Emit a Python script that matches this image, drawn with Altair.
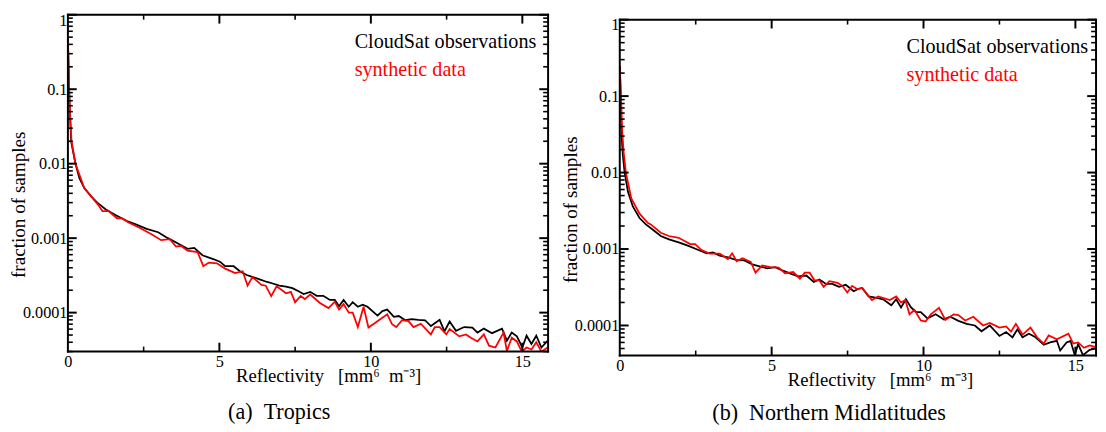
import altair as alt
import pandas as pd

FONT = "Liberation Serif"
SERIES = ["CloudSat observations", "synthetic data"]
COLORS = ["#000000", "#ff0000"]

Y_MAJOR = [1, 0.1, 0.01, 0.001, 0.0001]
X_MAJOR = [0, 5, 10, 15]
X_MINOR = [2.5, 7.5, 12.5]
X_TITLE = "Reflectivity\u00a0\u00a0\u00a0[mm\u2076\u00a0\u00a0m\u207b\u00b3]"
Y_TITLE = "fraction of samples"
CAPTIONS = ["(a)\u00a0\u00a0Tropics", "(b)\u00a0\u00a0Northern Midlatitudes"]

# ---- (a) Tropics ----
TROP_OBS_X = [0.0, 0.04, 0.07, 0.11, 0.25, 0.38, 0.54, 0.76, 0.97, 1.24, 1.57, 1.95, 2.22, 2.6,
              2.98, 3.3, 3.68, 3.95, 4.17, 4.44, 4.82, 5.03, 5.19, 5.47, 5.68, 5.9, 6.11, 6.33,
              6.55, 6.76, 6.98, 7.2, 7.41, 7.63, 7.78, 8.0, 8.21, 8.43, 8.65, 8.81, 8.95, 9.1,
              9.27, 9.4, 9.57, 9.73, 9.89, 10.22, 10.38, 10.54, 10.76, 10.92, 11.14, 11.35,
              11.57, 11.79, 11.98, 12.27, 12.43, 12.6, 12.81, 13.08, 13.35, 13.52, 13.73, 14.0,
              14.33, 14.49, 14.65, 14.82, 15.0, 15.14, 15.3, 15.46, 15.63, 15.84]
TROP_OBS_Y = [0.5, 0.1, 0.045, 0.0195, 0.01, 0.0064, 0.0047, 0.00366, 0.003, 0.00245, 0.00205,
              0.0017, 0.00154, 0.00133, 0.0012, 0.001, 0.00083, 0.00072, 0.00074, 0.00059,
              0.00052, 0.00048, 0.00042, 0.00042, 0.00036, 0.00032, 0.0003, 0.00028, 0.00026,
              0.000246, 0.00023, 0.000224, 0.000213, 0.000192, 0.000178, 0.00019, 0.000168,
              0.000168, 0.000148, 0.000148, 0.000122, 0.000148, 0.00012, 0.000138, 0.00012,
              0.000128, 0.00012, 0.000091, 0.000105, 0.00011, 0.000088, 0.00009, 0.000079,
              0.000082, 0.00008, 0.000079, 0.000066, 0.00008, 0.000056, 0.000076, 0.000057,
              0.000064, 0.000063, 0.000054, 0.000061, 0.000053, 0.000061, 0.000042, 0.000054,
              0.000048, 0.000034, 0.000049, 0.000038, 0.000049, 0.000034, 0.000042]
TROP_SYN_X = [0.0, 0.04, 0.07, 0.12, 0.25, 0.54, 0.83, 1.0, 1.14, 1.35, 1.62, 1.78, 2.0, 2.38,
              2.76, 3.08, 3.36, 3.57, 3.73, 3.95, 4.28, 4.47, 4.65, 4.92, 5.19, 5.52, 5.77, 5.93,
              6.09, 6.39, 6.53, 6.71, 6.89, 7.2, 7.36, 7.5, 7.68, 7.82, 8.0, 8.32, 8.6, 8.81,
              8.95, 9.1, 9.27, 9.4, 9.57, 9.76, 9.92, 10.1, 10.54, 10.7, 10.84, 11.03, 11.24,
              11.41, 11.65, 11.98, 12.11, 12.27, 12.49, 12.6, 12.92, 13.14, 13.3, 13.52, 13.73,
              13.9, 14.11, 14.38, 14.49, 14.65, 14.82, 14.98, 15.14, 15.3, 15.46, 15.63, 15.84]
TROP_SYN_Y = [0.5, 0.1, 0.045, 0.02, 0.01, 0.0047, 0.0034, 0.0028, 0.00231, 0.0023, 0.00185,
              0.00185, 0.00162, 0.00137, 0.00113, 0.00094, 0.00097, 0.00077, 0.00079, 0.00068,
              0.00065, 0.00042, 0.00047, 0.00046, 0.00039, 0.00034, 0.00036, 0.00023, 0.0003,
              0.000236, 0.00023, 0.000166, 0.000225, 0.000182, 0.00019, 0.000138, 0.000168,
              0.000152, 0.000175, 0.000135, 0.000115, 0.00014, 0.00011, 0.00013, 0.0001, 0.0001,
              0.000064, 0.00012, 0.000063, 0.000071, 0.000095, 0.00007, 0.000064, 0.000079,
              0.000077, 0.000064, 0.000071, 0.000051, 0.000064, 0.000064, 0.000051, 0.00006,
              0.000048, 0.000051, 0.000046, 0.000041, 0.000051, 0.000036, 0.000034, 0.000054,
              0.0000305, 0.000046, 0.000041, 0.00003, 0.000034, 0.000032, 0.00004, 0.00003,
              0.000034]

# ---- (b) Northern Midlatitudes ----
MID_OBS_X = [0.0, 0.03, 0.06, 0.1, 0.16, 0.27, 0.43, 0.65, 0.86, 1.08, 1.35, 1.62, 1.94, 2.26,
             2.59, 2.86, 3.07, 3.29, 3.56, 3.82, 4.1, 4.36, 4.63, 4.85, 5.12, 5.33, 5.6, 5.87,
             6.14, 6.39, 6.57, 6.79, 7.0, 7.22, 7.44, 7.7, 7.85, 7.98, 8.19, 8.46, 8.67, 8.94,
             9.1, 9.26, 9.42, 9.59, 9.75, 9.91, 10.13, 10.4, 10.67, 10.88, 11.15, 11.42, 11.69,
             11.91, 12.18, 12.5, 12.72, 12.93, 13.09, 13.26, 13.47, 13.69, 13.96, 14.17, 14.39,
             14.5, 14.71, 14.84, 14.98, 15.09, 15.25, 15.47, 15.68]
MID_OBS_Y = [0.25, 0.1, 0.03, 0.017, 0.01, 0.0056, 0.0036, 0.00254, 0.0021, 0.0018, 0.00148,
             0.00134, 0.00122, 0.0011, 0.00097, 0.00088, 0.0009, 0.00082, 0.00078, 0.00072,
             0.00071, 0.00063, 0.00059, 0.00056, 0.00058, 0.00053, 0.00048, 0.00044, 0.00045,
             0.00037, 0.0004, 0.00035, 0.00035, 0.00032, 0.00034, 0.00028, 0.0003, 0.00031,
             0.00024, 0.00023, 0.00022, 0.000184, 0.00022, 0.000172, 0.00022, 0.000172, 0.00015,
             0.00015, 0.000124, 0.00014, 0.00012, 0.00013, 0.000115, 0.000105, 0.0001, 0.000084,
             0.0001, 0.000073, 0.000082, 0.00007, 0.000089, 0.00007, 0.000078, 0.00007,
             0.000056, 0.00006, 0.000063, 0.000047, 0.00006, 0.000063, 0.000041, 0.000057,
             0.000041, 0.000048, 0.00005]
MID_SYN_X = [0.0, 0.04, 0.08, 0.13, 0.2, 0.38, 0.65, 0.92, 1.02, 1.35, 1.62, 1.94, 2.32, 2.48,
             2.69, 2.96, 3.29, 3.56, 3.7, 3.85, 4.04, 4.31, 4.47, 4.69, 4.96, 5.23, 5.44, 5.71,
             5.93, 6.09, 6.25, 6.41, 6.57, 6.71, 6.9, 7.17, 7.33, 7.49, 7.65, 7.81, 7.98, 8.3,
             8.51, 8.89, 9.1, 9.26, 9.4, 9.54, 9.7, 9.91, 10.07, 10.24, 10.51, 10.72, 10.99,
             11.15, 11.37, 11.64, 11.96, 12.18, 12.5, 12.72, 12.88, 13.04, 13.26, 13.52, 13.74,
             13.96, 14.12, 14.39, 14.77, 14.93, 15.09, 15.28, 15.47, 15.68]
MID_SYN_Y = [0.25, 0.1, 0.035, 0.018, 0.01, 0.0046, 0.0029, 0.0022, 0.0021, 0.00163, 0.00148,
             0.0014, 0.00116, 0.00116, 0.00097, 0.00087, 0.00087, 0.00074, 0.00088, 0.00069,
             0.00076, 0.00068, 0.00049, 0.00061, 0.00058, 0.00057, 0.00048, 0.0005, 0.00041,
             0.00049, 0.00049, 0.00039, 0.00039, 0.00032, 0.00038, 0.00036, 0.00033, 0.00027,
             0.00033, 0.0003, 0.00031, 0.000215, 0.00024, 0.000215, 0.00024, 0.0002, 0.000215,
             0.00014, 0.00016, 0.000116, 0.000113, 0.00014, 0.00017, 0.000118, 0.00014,
             0.000137, 0.000116, 0.00013, 0.0001, 0.000108, 0.000094, 0.000097, 0.000083,
             0.000105, 0.000076, 0.000094, 0.00007, 0.000058, 0.000074, 0.000066, 0.000078,
             0.000058, 0.00006, 0.000051, 0.000055, 0.000052]


def panel(obs_x, obs_y, syn_x, syn_y, xmax, ymin, width, height, caption,
          top_label_shift, top, caption_offset):
    """top = pixel row (inside the panel) where the frame and y=1 sit."""
    xs = alt.Scale(domain=[0, xmax], nice=False, zero=False)
    ys = alt.Scale(type="log", domain=[ymin, 1], nice=False, range=[height, top])

    x_axis = alt.Axis(values=X_MAJOR, ticks=False, domain=False, grid=False,
                      labelFont=FONT, labelFontSize=16.5, labelColor="black",
                      labelPadding=2, labelFlush=False, format="d",
                      title=X_TITLE, titleFont=FONT, titleFontSize=19,
                      titleFontWeight="normal", titleColor="black",
                      titleX=265, titleY=31, titleBaseline="alphabetic")
    y_axis = alt.Axis(values=Y_MAJOR, ticks=False, domain=False, grid=False,
                      labelFont=FONT, labelFontSize=16.5, labelColor="black",
                      labelPadding=1, labelFlush=False, format="~g",
                      labelOffset={"condition": {"test": "datum.value >= 1", "value": top_label_shift},
                                   "value": 0},
                      title=Y_TITLE, titleFont=FONT, titleFontSize=19.5,
                      titleFontWeight="normal", titleColor="black",
                      titleX=-44, titleY=top + 193, titleBaseline="alphabetic")

    layers = []
    for sx, sy, color in [(obs_x, obs_y, COLORS[0]), (syn_x, syn_y, COLORS[1])]:
        df = pd.DataFrame({"x": sx, "y": sy})
        layers.append(
            alt.Chart(df).mark_line(color=color, strokeWidth=1.8, clip=True).encode(
                x=alt.X("x:Q", scale=xs, axis=x_axis),
                y=alt.Y("y:Q", scale=ys, axis=y_axis),
            )
        )

    y_minor = [k * 10.0 ** e for e in range(-5, 0) for k in range(2, 10)]
    y_minor = [v for v in y_minor if ymin < v < 1]
    y_major = [v for v in Y_MAJOR if ymin <= v <= 1]

    def yrules(vals, x0, x1, sw):
        return alt.Chart(pd.DataFrame({"y": vals})).mark_rule(color="black", strokeWidth=sw).encode(
            y=alt.Y("y:Q", scale=ys, axis=y_axis), x=alt.value(x0), x2=alt.value(x1))

    def xrules(vals, y0, y1, sw):
        return alt.Chart(pd.DataFrame({"x": vals})).mark_rule(color="black", strokeWidth=sw).encode(
            x=alt.X("x:Q", scale=xs, axis=x_axis), y=alt.value(y0), y2=alt.value(y1))

    def frame_rule(x0, x1, y0, y1):
        return alt.Chart(alt.Data(values=[{"f": 0}])).mark_rule(
            color="black", strokeWidth=2, strokeCap="square").encode(
            x=alt.value(x0), x2=alt.value(x1), y=alt.value(y0), y2=alt.value(y1))

    layers += [
        yrules(y_major, 0, 9, 2), yrules(y_minor, 0, 5, 1.6),
        yrules(y_major, width, width - 9, 2), yrules(y_minor, width, width - 5, 1.6),
        xrules(X_MAJOR[1:], height, height - 9, 2), xrules(X_MINOR, height, height - 5, 1.6),
        xrules(X_MAJOR[1:], top, top + 9, 2), xrules(X_MINOR, top, top + 5, 1.6),
        frame_rule(0, width, top, top), frame_rule(0, width, height, height),
        frame_rule(0, 0, top, height), frame_rule(width, width, top, height),
    ]

    for i, (label, color) in enumerate(zip(SERIES, COLORS)):
        layers.append(
            alt.Chart(alt.Data(values=[{"label": label}])).mark_text(
                font=FONT, fontSize=20.5, color=color, align="left", baseline="alphabetic"
            ).encode(text="label:N", x=alt.value(292), y=alt.value(top + 34 + 28 * i))
        )

    return alt.layer(*layers).properties(
        width=width, height=height,
        view=alt.ViewBackground(stroke="transparent"),
        title=alt.TitleParams(caption, orient="bottom", font=FONT, fontSize=22.5,
                              fontWeight="normal", color="black", anchor="middle",
                              frame="bounds", offset=caption_offset),
    )


left = panel(TROP_OBS_X, TROP_OBS_Y, TROP_SYN_X, TROP_SYN_Y, 15.85, 3e-5, 489, 343,
             CAPTIONS[0], 6, 0, 16)
right = panel(MID_OBS_X, MID_OBS_Y, MID_SYN_X, MID_SYN_Y, 15.68, 4.05e-5, 485, 347,
              CAPTIONS[1], 5, 5, 13)

chart = alt.hconcat(left, right, spacing=10).properties(padding=0).configure_view(
    stroke="transparent"
).configure(background="white")

chart.save("out.html", embed_options={"renderer": "svg", "actions": False})
